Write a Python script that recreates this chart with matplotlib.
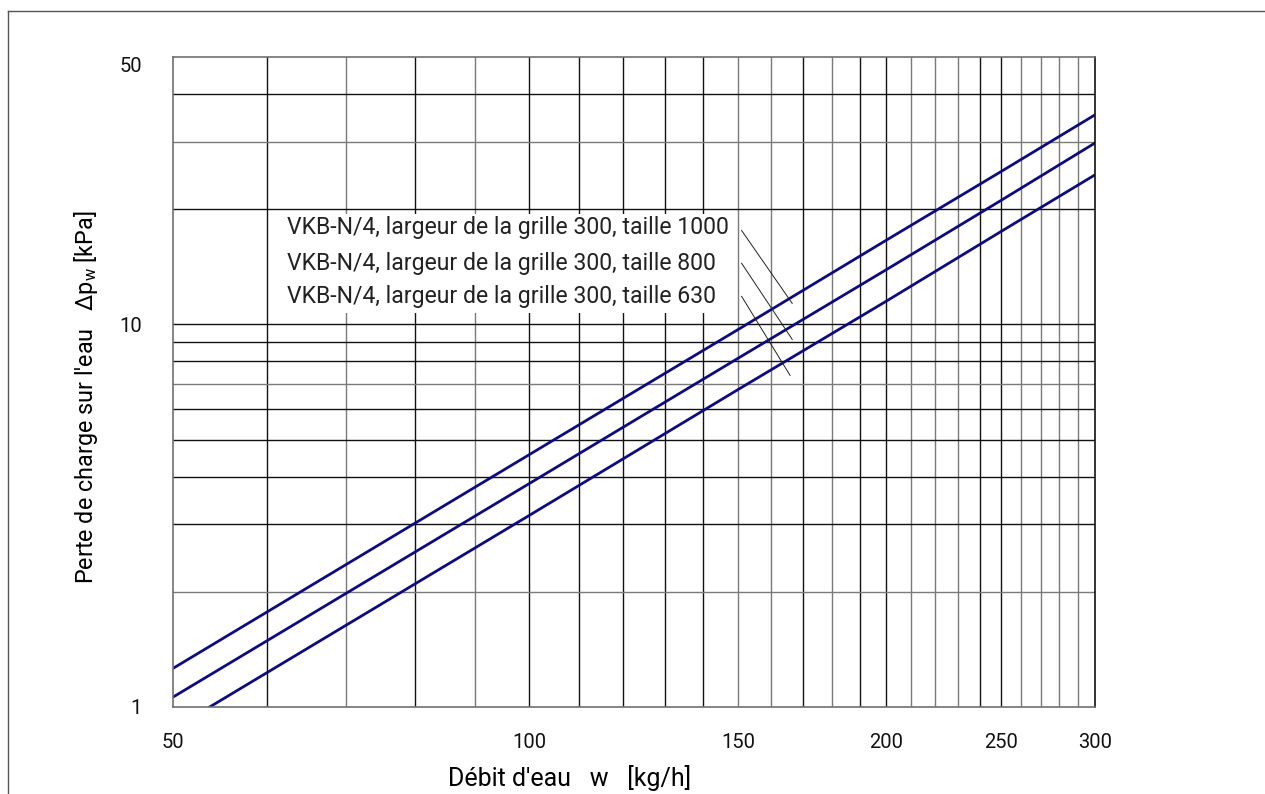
import numpy as np
import matplotlib
matplotlib.use("Agg")
import matplotlib.pyplot as plt
from matplotlib.lines import Line2D

plt.rcParams['font.family'] = ['Roboto', 'DejaVu Sans']

# water flow [kg/h] and pressure drop [kPa]
flow = [50, 100, 150, 200, 250, 300]
dp_1000 = [1.26, 4.57, 9.7, 16.6, 25.1, 35.3]
dp_800 = [1.06, 3.84, 8.16, 13.9, 21.1, 29.8]
dp_630 = [0.875, 3.17, 6.76, 11.5, 17.5, 24.6]

labels = ["VKB-N/4, largeur de la grille 300, taille 1000",
          "VKB-N/4, largeur de la grille 300, taille 800",
          "VKB-N/4, largeur de la grille 300, taille 630"]

x_ticks = [50, 100, 150, 200, 250, 300]
y_ticks = [1, 10, 50]

# grid positions, dark ones drawn black, others gray
x_grid = list(range(60, 300, 10))
x_dark = [60, 80, 100, 110, 120, 130, 140, 170, 190, 200, 240, 250]
y_grid = [2, 3, 4, 5, 6, 7, 8, 9, 10, 20, 30, 40]
y_dark = [3, 4, 5, 6, 8, 9, 10, 20, 40]

fig = plt.figure(figsize=(12.65, 7.94), dpi=100)
ax = fig.add_axes([0.1365, 0.1096, 0.7291, 0.8186])
ax.set_xscale('log')
ax.set_yscale('log')
ax.set_xlim(50, 300)
ax.set_ylim(1, 50)

for v in x_grid:
    ax.axvline(v, color='#111111' if v in x_dark else '#7a7a7a', lw=1.0, zorder=1)
for v in y_grid:
    ax.axhline(v, color='#111111' if v in y_dark else '#7a7a7a', lw=1.0, zorder=1)

# white box behind the labels
ax.fill_between([61, 146], 10.7, 19.4, color='white', zorder=2, lw=0)

line_color = '#0c0c80'
for dp in [dp_1000, dp_800, dp_630]:
    ax.plot(flow, dp, color=line_color, lw=2.0, zorder=3, solid_capstyle='butt')

text_y = [0.737, 0.683, 0.631]
for lab, ty in zip(labels, text_y):
    ax.text(0.124, ty, lab, transform=ax.transAxes, fontsize=16.6,
            va='center', ha='left', color='#222222', zorder=4)

# leader lines from the labels to the curves
leaders = [((151, 17.6), (166.6, 11.35)),
           ((151, 14.45), (166.6, 9.14)),
           ((151, 11.84), (165.9, 7.36))]
for (x0, y0), (x1, y1) in leaders:
    ax.plot([x0, x1], [y0, y1], color='#222222', lw=0.7, zorder=4)

ax.xaxis.set_major_locator(matplotlib.ticker.FixedLocator(x_ticks))
ax.xaxis.set_minor_locator(matplotlib.ticker.NullLocator())
ax.set_xticklabels([str(t) for t in x_ticks])
ax.yaxis.set_major_locator(matplotlib.ticker.FixedLocator(y_ticks))
ax.yaxis.set_minor_locator(matplotlib.ticker.NullLocator())
ax.set_yticklabels([str(t) for t in y_ticks])
ax.tick_params(length=0, labelsize=14.5, colors='#111111')
ax.tick_params(axis='x', pad=19)
ax.tick_params(axis='y', pad=22)
ax.get_yticklabels()[-1].set_va('top')

for s in ax.spines.values():
    s.set_color('#707070')
    s.set_linewidth(1.2)
    s.set_zorder(5)
ax.spines['right'].set_color('#111111')

fig.text(0.4506, 0.02, "Débit d'eau   w   [kg/h]", fontsize=18, ha='center', va='center')
fig.text(0.068, 0.5, "Perte de charge sur l'eau   \u2206p$_\\mathregular{w}$ [kPa]",
         fontsize=16.8, rotation=90, ha='center', va='center')

# frame lines at the top and left of the figure
fig.add_artist(Line2D([8 / 1265, 8 / 1265], [0, 1 - 11 / 794], color='#555555', lw=1.0))
fig.add_artist(Line2D([8 / 1265, 1], [1 - 11 / 794, 1 - 11 / 794], color='#555555', lw=1.0))

fig.savefig('out.png', dpi=100)
